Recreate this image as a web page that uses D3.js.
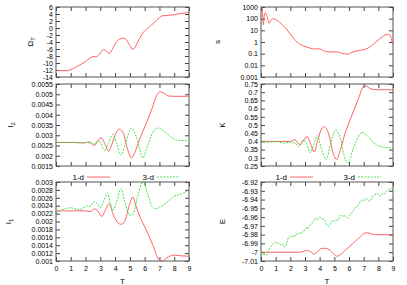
<!DOCTYPE html>
<html>
<head>
<meta charset="utf-8">
<script src="https://cdn.jsdelivr.net/npm/d3@7"></script>
<style>
  body { margin: 0; background: #fff; }
  svg { display: block; }
  .tick text { font-family: "Liberation Sans", Arial, sans-serif; font-size: 7px; fill: #000; }
  .tick line { stroke: #444; stroke-width: 1; }
  .frame { fill: none; stroke: #555; stroke-width: 1; }
  .lbl { font-family: "Liberation Sans", Arial, sans-serif; font-size: 8px; fill: #000; }
  .one-d { fill: none; stroke: #ff5050; stroke-width: 0.9; }
  .three-d { fill: none; stroke: #33dd33; stroke-width: 0.9; stroke-dasharray: 2,1.2; }
</style>
</head>
<body>
<div id="chart"></div>
<script>
const W = 407, H = 285;

// x ticks shared by every panel
const tTicks = [0, 1, 2, 3, 4, 5, 6, 7, 8, 9];

// y tick values per panel
const omegaTicks = [-14, -12, -10, -8, -6, -4, -2, 0, 2, 4, 6];
const i2Ticks = [0.0015, 0.002, 0.0025, 0.003, 0.0035, 0.004, 0.0045, 0.005, 0.0055];
const i1Ticks = [0.001, 0.0012, 0.0014, 0.0016, 0.0018, 0.002, 0.0022, 0.0024, 0.0026, 0.0028, 0.003];
const sTicks = [0.001, 0.01, 0.1, 1, 10, 100, 1000];
const kTicks = [0.25, 0.3, 0.35, 0.4, 0.45, 0.5, 0.55, 0.6, 0.65, 0.7, 0.75];
const eTicks = [-7.01, -7, -6.99, -6.98, -6.97, -6.96, -6.95, -6.94, -6.93, -6.92];

// series: [T, value]
const omega1d = [[0,-12.1],[0.5,-12.2],[0.8,-12.15],[1.1,-11.7],[1.5,-10.8],[2.0,-9.6],[2.3,-8.6],[2.5,-8.2],[2.75,-8.2],[2.95,-7.4],[3.2,-6.2],[3.35,-6.4],[3.6,-7.3],[3.8,-6.2],[4.05,-4.2],[4.3,-3.2],[4.55,-2.9],[4.75,-3.3],[5.0,-5.0],[5.2,-6.1],[5.35,-5.5],[5.6,-3.4],[5.9,-1.3],[6.3,0.2],[6.7,1.8],[7.0,3.0],[7.2,3.5],[7.6,3.6],[8.0,3.8],[8.5,4.2],[9.0,4.4]];

const i2_1d = [[0,0.00265],[1,0.00265],[1.9,0.00262],[2.25,0.00268],[2.4,0.00262],[2.6,0.0025],[2.8,0.0027],[3.05,0.00287],[3.3,0.0026],[3.55,0.00222],[3.8,0.0026],[4.05,0.0031],[4.3,0.0033],[4.55,0.0031],[4.85,0.0023],[5.1,0.0019],[5.3,0.0021],[5.6,0.0027],[6.0,0.0034],[6.5,0.0043],[6.85,0.005],[7.05,0.00512],[7.3,0.00505],[7.6,0.00492],[8.0,0.0049],[9,0.0049]];
const i2_3d = [[0,0.00265],[2.0,0.00265],[2.3,0.00262],[2.55,0.00255],[2.75,0.00268],[2.95,0.0027],[3.3,0.00224],[3.55,0.0026],[3.85,0.00305],[4.1,0.0026],[4.4,0.00203],[4.7,0.0026],[5.1,0.00335],[5.45,0.0029],[5.87,0.0019],[6.2,0.0025],[6.6,0.0032],[6.9,0.00335],[7.3,0.0032],[7.8,0.0029],[8.2,0.00276],[9,0.00273]];

const i1_1d = [[0,0.00227],[2.0,0.00227],[2.3,0.00225],[2.6,0.00232],[2.8,0.00228],[3.1,0.00213],[3.35,0.0023],[3.6,0.00245],[3.85,0.0022],[4.15,0.00198],[4.4,0.00193],[4.65,0.002],[4.95,0.0024],[5.2,0.00262],[5.4,0.0024],[5.7,0.0021],[6.0,0.00187],[6.5,0.00145],[7.0,0.00102],[7.2,0.001],[7.5,0.00108],[8.0,0.00115],[8.5,0.00113],[9,0.00112]];
const i1_3d = [[0,0.00222],[0.3,0.00228],[0.7,0.00233],[1.0,0.00235],[1.3,0.00232],[1.6,0.0023],[1.9,0.00236],[2.1,0.0024],[2.3,0.00238],[2.6,0.0025],[2.8,0.00245],[3.0,0.00235],[3.2,0.0025],[3.5,0.00272],[3.65,0.0025],[3.85,0.00228],[4.1,0.0025],[4.4,0.00283],[4.65,0.0025],[5.0,0.00216],[5.2,0.00217],[5.5,0.0026],[5.9,0.00302],[6.2,0.0027],[6.5,0.00238],[6.75,0.00232],[7.0,0.00236],[7.5,0.00248],[8.0,0.00264],[8.5,0.0027],[9,0.0028]];

const s1d = [[0,1000],[0.08,800],[0.16,30],[0.22,150],[0.3,320],[0.42,150],[0.55,40],[0.7,80],[0.85,100],[1.05,80],[1.3,45],[1.6,20],[1.9,7],[2.2,2.2],[2.5,0.9],[2.8,0.5],[3.2,0.35],[3.6,0.25],[4.0,0.26],[4.2,0.2],[4.4,0.15],[4.8,0.14],[5.2,0.14],[5.5,0.11],[5.9,0.09],[6.2,0.13],[6.6,0.18],[7.0,0.22],[7.3,0.3],[7.7,0.7],[8.0,1.5],[8.3,3],[8.6,4.5],[8.8,4],[8.9,1.5],[9,0.6]];

const k1d = [[0,0.40],[2.0,0.40],[2.3,0.41],[2.65,0.38],[2.85,0.40],[3.15,0.43],[3.4,0.38],[3.63,0.335],[3.85,0.40],[4.1,0.47],[4.3,0.49],[4.6,0.45],[4.95,0.32],[5.15,0.29],[5.35,0.33],[5.7,0.44],[6.2,0.56],[6.6,0.65],[7.0,0.735],[7.12,0.739],[7.5,0.72],[8.0,0.715],[9,0.715]];
const k3d = [[0,0.405],[0.5,0.395],[1.0,0.40],[1.5,0.39],[2.0,0.395],[2.3,0.39],[2.6,0.37],[2.85,0.405],[3.1,0.39],[3.35,0.33],[3.6,0.38],[3.85,0.435],[4.1,0.36],[4.45,0.29],[4.75,0.39],[5.1,0.47],[5.4,0.42],[5.75,0.29],[5.95,0.27],[6.3,0.36],[6.9,0.455],[7.3,0.43],[7.7,0.39],[8.1,0.37],[9,0.36]];

const e1d = [[0,-7.0],[2.6,-7.0],[2.9,-6.999],[3.15,-6.998],[3.35,-6.999],[3.6,-7.002],[3.8,-7.0],[4.1,-6.996],[4.4,-6.9955],[4.65,-6.997],[4.95,-7.002],[5.2,-7.0045],[5.4,-7.003],[5.8,-6.997],[6.3,-6.9895],[6.8,-6.982],[7.1,-6.978],[7.3,-6.978],[7.7,-6.98],[9,-6.98]];
const e3d = [[0,-7.0],[0.1,-7.001],[0.2,-7.003],[0.3,-7.002],[0.4,-7.003],[0.5,-6.998],[0.6,-6.995],[0.7,-6.993],[0.8,-6.991],[0.9,-6.989],[1.0,-6.988],[1.1,-6.99],[1.2,-6.989],[1.3,-6.991],[1.4,-6.992],[1.5,-6.991],[1.6,-6.994],[1.7,-6.993],[1.8,-6.986],[1.9,-6.983],[2.0,-6.982],[2.1,-6.983],[2.2,-6.981],[2.3,-6.982],[2.4,-6.979],[2.5,-6.98],[2.6,-6.978],[2.7,-6.979],[2.8,-6.977],[2.9,-6.976],[3.0,-6.975],[3.1,-6.972],[3.2,-6.973],[3.3,-6.97],[3.4,-6.968],[3.5,-6.967],[3.6,-6.964],[3.7,-6.961],[3.8,-6.963],[3.9,-6.962],[4.0,-6.96],[4.1,-6.961],[4.2,-6.962],[4.3,-6.963],[4.4,-6.966],[4.5,-6.969],[4.6,-6.971],[4.7,-6.968],[4.8,-6.965],[4.9,-6.964],[5.0,-6.965],[5.1,-6.963],[5.2,-6.964],[5.3,-6.962],[5.4,-6.958],[5.5,-6.958],[5.6,-6.959],[5.7,-6.958],[5.8,-6.96],[5.9,-6.961],[6.0,-6.959],[6.1,-6.957],[6.2,-6.955],[6.3,-6.952],[6.4,-6.95],[6.5,-6.948],[6.6,-6.947],[6.7,-6.944],[6.8,-6.942],[6.9,-6.941],[7.0,-6.94],[7.1,-6.941],[7.2,-6.939],[7.3,-6.94],[7.4,-6.942],[7.5,-6.94],[7.6,-6.937],[7.7,-6.935],[7.8,-6.934],[7.9,-6.933],[8.0,-6.934],[8.1,-6.936],[8.2,-6.935],[8.3,-6.933],[8.4,-6.934],[8.5,-6.932],[8.6,-6.93],[8.7,-6.929],[8.8,-6.928],[8.9,-6.927],[9.0,-6.926]];

const svg = d3.select('#chart').append('svg')
    .attr('width', W)
    .attr('height', H);

const cols = [[56, 189], [261, 393]];
const rows = [[7, 77], [84, 166], [182, 261]];

const fmt = v => String(+v.toFixed(5));

function panel(col, row, opts) {
    const [x0, x1] = cols[col];
    const [y0, y1] = rows[row];
    const x = d3.scaleLinear().domain([0, 9]).range([x0, x1]);
    const y = (opts.log ? d3.scaleLog() : d3.scaleLinear())
        .domain(opts.domain).range([y1, y0]);

    const g = svg.append('g');

    // ticks on all four sides, pointing inward
    g.append('g')
        .attr('transform', `translate(${x0},0)`)
        .call(d3.axisLeft(y).tickValues(opts.ticks).tickSize(-4).tickPadding(3).tickFormat(fmt))
        .call(a => a.select('.domain').remove());
    g.append('g')
        .attr('transform', `translate(${x1},0)`)
        .call(d3.axisRight(y).tickValues(opts.ticks).tickSize(-4).tickFormat(''))
        .call(a => a.select('.domain').remove());
    g.append('g')
        .attr('transform', `translate(0,${y0})`)
        .call(d3.axisTop(x).tickValues(tTicks).tickSize(-4).tickFormat(''))
        .call(a => a.select('.domain').remove());
    g.append('g')
        .attr('transform', `translate(0,${y1})`)
        .call(d3.axisBottom(x).tickValues(tTicks).tickSize(-4).tickPadding(5)
            .tickFormat(row === 2 ? d3.format('d') : ''))
        .call(a => a.select('.domain').remove());

    g.append('rect')
        .attr('class', 'frame')
        .attr('x', x0).attr('y', y0)
        .attr('width', x1 - x0).attr('height', y1 - y0);

    const clipId = `clip${col}${row}`;
    g.append('clipPath').attr('id', clipId)
        .append('rect')
        .attr('x', x0).attr('y', y0 - 1)
        .attr('width', x1 - x0).attr('height', y1 - y0 + 2);

    const line = d3.line()
        .x(d => x(d[0]))
        .y(d => y(d[1]));

    opts.series.forEach(s => {
        g.append('path')
            .datum(s.data)
            .attr('class', s.cls)
            .attr('clip-path', `url(#${clipId})`)
            .attr('d', line.curve(s.curve || d3.curveMonotoneX)(s.data));
    });

    // y label, rotated
    const lab = g.append('text')
        .attr('class', 'lbl')
        .attr('text-anchor', 'middle')
        .attr('transform', `translate(${opts.labelX},${(y0 + y1) / 2}) rotate(-90)`);
    lab.append('tspan').text(opts.label);
    if (opts.sub) {
        lab.append('tspan').attr('font-size', '6px').attr('dy', 2).text(opts.sub);
    }

    if (row === 2) {
        g.append('text')
            .attr('class', 'lbl')
            .attr('text-anchor', 'middle')
            .attr('x', (x0 + x1) / 2)
            .attr('y', 284)
            .text('T');
    }

    if (opts.legend) {
        const lg = opts.legend;
        [['1-d', '#ff6a6a', 'none', lg[0]], ['3-d', '#55e055', '2,1.2', lg[1]]].forEach(([t, c, dash, lx]) => {
            g.append('text')
                .attr('class', 'lbl')
                .attr('text-anchor', 'end')
                .attr('x', lx - 3)
                .attr('y', 180)
                .text(t);
            g.append('path')
                .attr('d', `M${lx},177H${lx + 23}`)
                .style('fill', 'none')
                .style('stroke', c)
                .style('stroke-width', '1px')
                .style('stroke-dasharray', dash);
        });
    }
}

panel(0, 0, { domain: [-14, 6], ticks: omegaTicks, label: 'Ω', sub: 'T', labelX: 33,
    series: [{ data: omega1d, cls: 'one-d' }] });
panel(0, 1, { domain: [0.0015, 0.0055], ticks: i2Ticks, label: 'I', sub: '2', labelX: 13,
    series: [{ data: i2_1d, cls: 'one-d' }, { data: i2_3d, cls: 'three-d' }] });
panel(0, 2, { domain: [0.001, 0.003], ticks: i1Ticks, label: 'I', sub: '1', labelX: 11, legend: [87, 157],
    series: [{ data: i1_1d, cls: 'one-d' }, { data: i1_3d, cls: 'three-d' }] });

panel(1, 0, { domain: [0.001, 1000], log: true, ticks: sTicks, label: 's', labelX: 220,
    series: [{ data: s1d, cls: 'one-d' }] });
panel(1, 1, { domain: [0.25, 0.75], ticks: kTicks, label: 'K', labelX: 225,
    series: [{ data: k1d, cls: 'one-d' }, { data: k3d, cls: 'three-d' }] });
panel(1, 2, { domain: [-7.01, -6.92], ticks: eTicks, label: 'E', labelX: 225, legend: [290, 358],
    series: [{ data: e1d, cls: 'one-d' }, { data: e3d, cls: 'three-d', curve: d3.curveLinear }] });
</script>
</body>
</html>
